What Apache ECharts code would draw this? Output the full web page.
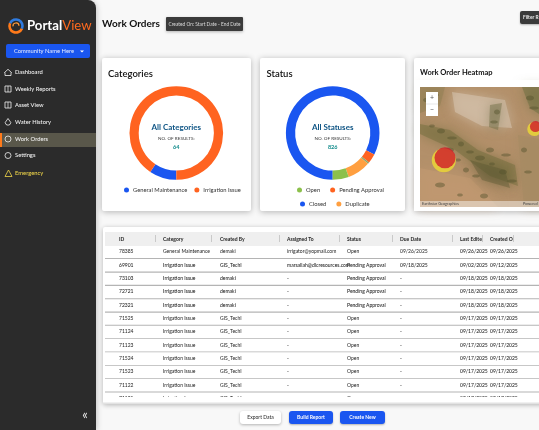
<!DOCTYPE html>
<html>
<head>
<meta charset="utf-8">
<style>html,body{margin:0;padding:0;background:#f8f8f8}#main{width:539px;height:430px}</style>
<script src="https://cdn.jsdelivr.net/npm/echarts@6/dist/echarts.min.js"></script>
</head>
<body>
<div id="main"></div>
<script>
// donut data
const categoryNames = ['General Maintenance', 'Irrigation Issue'];
const categoryValues = [6, 58];
const categoryColors = ['#1a56f0', '#ff6320'];
const categoryTotal = 64;

const statusNames = ['Closed', 'Pending Approval', 'Other', 'Duplicate', 'Open'];
const statusValues = [682, 27, 5, 66, 46];
const statusColors = ['#1a56f0', '#ff6320', '#8fa86a', '#ff9f40', '#8cc04b'];
const statusTotal = 826;

// heatmap spots, map percent
const heatX = [21, 97];
const heatY = [59, 33];
const heatSize = [21, 11];

// table
const columns = ['ID', 'Category', 'Created By', 'Assigned To', 'Status', 'Due Date', 'Last Edite', 'Created O'];
const rowIds = ['78385', '69901', '73103', '72721', '72321', '71525', '71124', '71123', '71524', '71523', '71122', '71121'];
const rowCategories = ['General Maintenance', 'Irrigation Issue', 'Irrigation Issue', 'Irrigation Issue', 'Irrigation Issue', 'Irrigation Issue', 'Irrigation Issue', 'Irrigation Issue', 'Irrigation Issue', 'Irrigation Issue', 'Irrigation Issue', 'Irrigation Issue'];
const rowCreatedBy = ['demaki', 'GIS_TechI', 'demaki', 'demaki', 'demaki', 'GIS_TechI', 'GIS_TechI', 'GIS_TechI', 'GIS_TechI', 'GIS_TechI', 'GIS_TechI', 'GIS_TechI'];
const rowAssigned = ['irrigator@yopmail.com', 'marsallah@dlcresources.com', '-', '-', '-', '-', '-', '-', '-', '-', '-', '-'];
const rowStatus = ['Open', 'Pending Approval', 'Pending Approval', 'Pending Approval', 'Pending Approval', 'Open', 'Open', 'Open', 'Open', 'Open', 'Open', 'Open'];
const rowDue = ['09/26/2025', '09/18/2025', '-', '-', '-', '-', '-', '-', '-', '-', '-', '-'];
const rowEdited = ['09/26/2025', '09/02/2025', '09/18/2025', '09/18/2025', '09/18/2025', '09/17/2025', '09/17/2025', '09/17/2025', '09/17/2025', '09/17/2025', '09/17/2025', '09/17/2025'];
const rowCreated = ['09/26/2025', '09/12/2025', '09/18/2025', '09/18/2025', '09/18/2025', '09/17/2025', '09/17/2025', '09/17/2025', '09/17/2025', '09/17/2025', '09/17/2025', '09/17/2025'];
const boldRows = [1, 2, 3, 4];

const menuItems = ['Dashboard', 'Weekly Reports', 'Asset View', 'Water History', 'Work Orders', 'Settings', 'Emergency'];

const colX = [119, 163, 220, 287, 347, 400, 460, 490];
const dividerX = [155, 211, 279, 339, 392, 452, 482, 513];
const menuY = [72.5, 89, 105, 122, 139, 155.5, 173];

const FONT = 'Lato';
let g = [];

function txt(x, y, text, size, color, weight, align, z) {
    g.push({
        type: 'text', z: z || 10, x: x, y: y,
        style: { text: text, fontFamily: FONT, fontSize: size, fontWeight: weight || 400, fill: color, align: align || 'left', verticalAlign: 'middle' }
    });
}
function box(x, y, w, h, fill, r, z, shadow) {
    let s = { fill: fill };
    if (shadow) { s.shadowBlur = shadow; s.shadowColor = 'rgba(0,0,0,0.28)'; s.shadowOffsetY = 1; }
    g.push({ type: 'rect', z: z || 2, shape: { x: x, y: y, width: w, height: h, r: r || 0 }, style: s });
}
function ring(cx, cy, r, a0, a1, color, lw) {
    g.push({ type: 'arc', z: 10, shape: { cx: cx, cy: cy, r: r, startAngle: a0, endAngle: a1 }, style: { fill: null, stroke: color, lineWidth: lw } });
}
function outline(points, color) {
    g.push({ type: 'polygon', z: 10, shape: { points: points }, style: { fill: null, stroke: color, lineWidth: 0.8 } });
}

// sidebar
box(0, 0, 96, 430, '#2b2b2b', [0, 8, 0, 0], 5, 6);
ring(16, 26, 6.5, 0.4, 3.6, '#ff7a1a', 2.6);
ring(16, 26, 6.5, 3.6, 6.7, '#2f7be0', 2.6);
ring(16, 26, 3, 3, 6.2, '#ff9a3a', 1.2);
g.push({
    type: 'text', z: 10, x: 27, y: 26,
    style: {
        text: '{a|Portal}{b|View}',
        verticalAlign: 'middle',
        rich: {
            a: { fontFamily: FONT, fontSize: 13.2, fontWeight: 700, fill: '#fff' },
            b: { fontFamily: FONT, fontSize: 13.2, fontWeight: 400, fill: '#ff6a1f' }
        }
    }
});
box(6, 44, 84, 14, '#1a56f0', 2, 6);
txt(44, 51, 'Community Name Here', 5.8, '#e8edff', 400, 'center');
g.push({ type: 'polygon', z: 10, shape: { points: [[80, 50.5], [84, 50.5], [82, 52.5]] }, style: { fill: '#fff' } });
box(0, 133, 96, 14, '#59574a', 0, 6);
box(0, 133, 2, 14, '#ff7a1a', 0, 7);
menuItems.forEach(function (m, i) {
    let c = i === 6 ? '#f0d64a' : '#f2f2f2';
    let y = menuY[i];
    txt(15, y, m, 5.8, c, 500);
    if (i === 0) {
        outline([[4.5, y], [8, y - 3.2], [11.5, y], [11, y], [11, y + 3], [5, y + 3], [5, y]], c);
    } else if (i === 1 || i === 2) {
        outline([[5, y - 3], [11, y - 3], [11, y + 3], [5, y + 3]], c);
        g.push({ type: 'line', z: 10, shape: { x1: 8, y1: y - 3, x2: 8, y2: y + 3 }, style: { stroke: c, lineWidth: 0.7 } });
    } else if (i === 3) {
        outline([[8, y - 3.5], [10.8, y + 0.5], [10, y + 2.5], [8, y + 3.2], [6, y + 2.5], [5.2, y + 0.5]], c);
    } else if (i === 6) {
        outline([[5, 176.5], [12, 176.5], [8.5, 170]], c);
    } else {
        g.push({ type: 'circle', z: 10, shape: { cx: 8, cy: y, r: 3 }, style: { fill: null, stroke: c, lineWidth: 0.8 } });
    }
});
txt(85, 415, '«', 13, '#e6e6e6', 400, 'center');

// header
txt(102, 24, 'Work Orders', 10, '#111', 700);
box(166, 17, 77, 14, '#3b3b3b', 1, 6, 3);
txt(204.5, 24, 'Created On: Start Date - End Date', 4.8, '#ddd', 400, 'center');
box(520, 11, 30, 13, '#3b3b3b', 2, 6, 2);
txt(523, 17.5, 'Filter R', 4.8, '#eee', 700);

// cards
box(102, 58, 149, 153, '#fff', 2, 2, 6);
box(260, 58, 145, 153, '#fff', 2, 2, 6);
box(414, 58, 140, 153, '#fff', 2, 2, 6);
txt(108, 74, 'Categories', 9.5, '#111', 600);
txt(266.5, 74, 'Status', 9.5, '#111', 600);
txt(420, 73, 'Work Order Heatmap', 7.5, '#111', 700);

// donut centre labels
txt(176.3, 127, 'All Categories', 8, '#0f5585', 700, 'center');
txt(176.3, 138.5, 'NO. OF RESULTS:', 4.6, '#333', 400, 'center');
txt(176.3, 147, String(categoryTotal), 5.5, '#0f8a8a', 700, 'center');
txt(332.7, 127, 'All Statuses', 8, '#0f5585', 700, 'center');
txt(332.7, 138.5, 'NO. OF RESULTS:', 4.6, '#333', 400, 'center');
txt(332.7, 147, String(statusTotal), 5.5, '#0f8a8a', 700, 'center');

// map base, satellite look is only approximated
box(420, 87, 125, 120, '#b3906a', 0, 3);
[
    { p: [[452, 92], [505, 100], [512, 128], [482, 126], [455, 112]], c: '#d2bda6', o: 0.7 },
    { p: [[420, 124], [450, 130], [478, 150], [515, 165], [518, 186], [490, 176], [455, 150], [420, 134]], c: '#77703f', o: 0.55 },
    { p: [[490, 105], [502, 103], [498, 130], [489, 127]], c: '#6d6a42', o: 0.45 },
    { p: [[420, 87], [445, 87], [440, 106], [420, 113]], c: '#8c7d50', o: 0.45 },
    { p: [[522, 87], [545, 87], [545, 118], [530, 108]], c: '#6f6f42', o: 0.55 },
    { p: [[420, 168], [470, 178], [498, 207], [420, 207]], c: '#c19a72', o: 0.6 },
    { p: [[518, 135], [545, 140], [545, 207], [524, 207]], c: '#a58a62', o: 0.6 },
    { p: [[470, 160], [505, 170], [510, 188], [482, 180]], c: '#57552f', o: 0.4 }
].forEach(function (t) {
    g.push({ type: 'polygon', z: 3, shape: { points: t.p }, style: { fill: t.c, opacity: t.o, shadowBlur: 12, shadowColor: t.c } });
});
// dark speckle of the ridges
[[432, 126], [441, 131], [452, 138], [461, 144], [470, 152], [480, 158], [492, 164], [503, 172], [512, 181], [497, 112], [494, 122], [428, 100], [436, 95], [530, 98], [534, 108], [466, 170], [476, 176], [449, 150], [458, 160], [490, 150], [506, 155], [524, 150], [528, 172], [440, 185], [460, 195], [484, 196]].forEach(function (p, i) {
    g.push({ type: 'ellipse', z: 3, shape: { cx: p[0], cy: p[1], rx: 3 + i % 3, ry: 1.5 + i % 2 }, style: { fill: '#54532c', opacity: 0.45 } });
});
box(414, 80, 6, 131, '#fff', 0, 3);
box(414, 80, 140, 7, '#fff', 0, 3);
box(414, 207, 140, 4, '#fff', 0, 3);
box(426, 92, 12, 24, '#fff', 0, 6);
g.push({ type: 'line', z: 7, shape: { x1: 426, y1: 104, x2: 438, y2: 104 }, style: { stroke: '#ccc', lineWidth: 0.5 } });
txt(432, 98, '+', 7, '#555', 400, 'center');
txt(432, 110, '−', 7, '#555', 400, 'center');
box(420, 201, 125, 6, 'rgba(255,255,255,0.45)', 0, 6);
txt(422, 204, 'Earthstar Geographics', 3.8, '#444');
txt(523, 204, 'Powered', 3.8, '#444');

// table card
box(103, 227, 450, 177, '#fff', 2, 2, 5);
box(105, 232, 434, 14, '#efefef', 0, 3);
columns.forEach(function (c, i) {
    txt(colX[i], 239, c, 5, '#222', 700);
    box(dividerX[i], 235, 1, 7, '#c9c9c9', 0, 4);
});
const cols = [rowIds, rowCategories, rowCreatedBy, rowAssigned, rowStatus, rowDue, rowEdited, rowCreated];
rowIds.forEach(function (id, r) {
    let y = 251.7 + r * 13.35;
    let bold = boldRows.indexOf(r) >= 0;
    cols.forEach(function (col, i) {
        txt(colX[i], y, col[r], 5, '#222', bold || i >= 6 ? 500 : 400, 'left', 4);
    });
    if (r < 11) {
        box(105, y + 6.4, 434, bold ? 1.2 : 0.8, '#b4b4b4', 0, 4);
    }
});
box(103, 397, 450, 5.5, '#fff', 0, 5);
box(103, 402.5, 450, 1.5, '#e2e2e2', 0, 5);

// bottom buttons
box(240, 411, 41, 13, '#fff', 3, 6, 3);
txt(260.5, 417.5, 'Export Data', 5, '#333', 500, 'center');
box(289, 411, 44, 13, '#1a56f0', 3, 6, 2);
txt(311, 417.5, 'Build Report', 5, '#fff', 700, 'center');
box(340, 411, 45, 13, '#1a56f0', 3, 6, 2);
txt(362.5, 417.5, 'Create New', 5, '#fff', 700, 'center');

function donut(name, cx, names, values, colors) {
    return {
        name: name, type: 'pie', z: 5,
        center: [cx, 133], radius: [37.6, 46.8],
        startAngle: 270, clockwise: true,
        silent: true, animation: false,
        label: { show: false }, labelLine: { show: false },
        data: names.map(function (n, i) {
            return { name: n, value: values[i], itemStyle: { color: colors[i] } };
        })
    };
}

function legendOf(names, left, top, gap) {
    return {
        data: names, left: left, top: top, icon: 'circle',
        itemWidth: 5, itemHeight: 5, itemGap: gap, padding: 0,
        selectedMode: false, z: 5,
        textStyle: { fontFamily: FONT, fontSize: 5.8, color: '#333', padding: [0, 0, 0, -1] }
    };
}

let chart = echarts.init(document.getElementById('main'), null, { width: 539, height: 430 });
chart.setOption({
    animation: false,
    tooltip: { show: false },
    legend: [
        legendOf(categoryNames, 124, 187, 7),
        legendOf(['Open', 'Pending Approval'], 297, 187, 10),
        legendOf(['Closed', 'Duplicate'], 300, 201, 10)
    ],
    grid: { left: 420, top: 87, width: 119, height: 120 },
    xAxis: { type: 'value', min: 0, max: 100, show: false },
    yAxis: { type: 'value', min: 0, max: 100, inverse: true, show: false },
    graphic: { elements: g },
    series: [
        donut('Categories', 176.3, categoryNames, categoryValues, categoryColors),
        donut('Status', 332.7, statusNames, statusValues, statusColors),
        {
            name: 'Heat halo', type: 'scatter', z: 4, silent: true, animation: false,
            data: heatX.map(function (x, i) { return [x - 1, heatY[i] + 2, heatSize[i] + 3]; }),
            symbolSize: function (d) { return d[2]; },
            itemStyle: { color: '#e8d23a', opacity: 0.9 }
        },
        {
            name: 'Heat core', type: 'scatter', z: 4, silent: true, animation: false,
            data: heatX.map(function (x, i) { return [x, heatY[i], heatSize[i]]; }),
            symbolSize: function (d) { return d[2]; },
            itemStyle: { color: '#cf1b2b' }
        }
    ]
});
</script>
</body>
</html>
